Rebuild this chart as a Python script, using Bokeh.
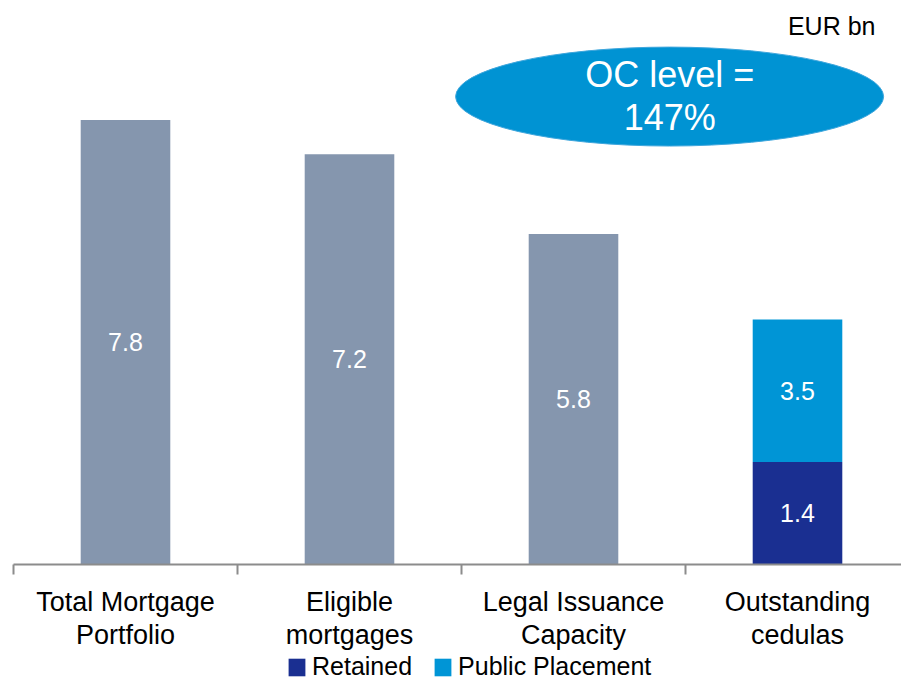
import numpy as np
from bokeh.plotting import figure
from bokeh.layouts import column
from bokeh.models import (Range1d, LinearAxis, FixedTicker, Legend, LegendItem, ColumnDataSource)
from bokeh.core.properties import value
from bokeh.embed import file_html
from bokeh.resources import INLINE

# ---- data ----
categories = ["Total Mortgage Portfolio", "Eligible mortgages", "Legal Issuance Capacity", "Outstanding cedulas"]
tick_labels = ["Total Mortgage\nPortfolio", "Eligible\nmortgages", "Legal Issuance\nCapacity", "Outstanding\ncedulas"]
portfolio_values = [7.8, 7.2, 5.8]          # grey bars (first three categories)
portfolio_labels = ["7.8", "7.2", "5.8"]
retained_value = [1.8]                       # bar height as drawn
public_value = [2.5]                         # bar height as drawn
retained_label = ["1.4"]
public_label = ["3.5"]
series_names = ["Retained", "Public Placement"]
oc_text = ["OC level =", "147%"]
unit_text = "EUR bn"

FONT = "Liberation Sans"
GREY = "#8596AE"
DARK = "#1A2F91"
LIGHT = "#0095D6"
AXIS = "#8C8C8C"

n = len(categories)
centers = list(np.arange(n) + 0.5)

W = 901
H_MAIN, H_LEG = 652, 27
left, top = 13, 8
frame_w = W - left
x_end = frame_w / 224.0

p = figure(width=W, height=H_MAIN, x_range=Range1d(0, x_end), y_range=Range1d(0, 9.755),
           output_backend="svg", toolbar_location=None,
           x_axis_location=None, y_axis_location=None,
           min_border_left=left, min_border_right=0, min_border_top=top,
           min_border_bottom=H_MAIN - 565)
p.outline_line_color = None
p.xgrid.visible = False
p.ygrid.visible = False
p.background_fill_color = "white"
p.border_fill_color = "white"

# tick axis (boundary ticks)
tick_axis = LinearAxis(ticker=FixedTicker(ticks=list(range(n + 1))),
                       major_label_overrides={i: "" for i in range(n + 1)},
                       major_label_text_font_size="0px", major_label_standoff=0,
                       major_tick_out=10, major_tick_in=0,
                       major_tick_line_color=AXIS, major_tick_line_width=2,
                       minor_tick_line_color=None,
                       axis_line_color=AXIS, axis_line_width=2)
p.add_layout(tick_axis, "below")

# label axis
label_axis = LinearAxis(ticker=FixedTicker(ticks=centers),
                        major_label_overrides={c: t for c, t in zip(centers, tick_labels)},
                        major_label_text_font=FONT, major_label_text_font_size="27px",
                        major_label_text_line_height=1.1,
                        major_label_text_color="black", major_label_standoff=6,
                        major_tick_line_color=None, minor_tick_line_color=None,
                        axis_line_color=None)
p.add_layout(label_axis, "below")

# grey bars
src = ColumnDataSource(dict(x=centers[:3], top=portfolio_values, label=portfolio_labels,
                            mid=[v / 2 for v in portfolio_values]))
p.vbar(x="x", top="top", width=0.4, source=src, fill_color=GREY, line_color=None)
p.text(x="x", y="mid", text="label", source=src, text_align="center", text_baseline="middle",
       text_color="white", text_font=value(FONT), text_font_size="25px")

# stacked bar
sx = [centers[3]]
stack_src = ColumnDataSource(dict(x=sx, r0=[0], r1=retained_value,
                                  p1=[a + b for a, b in zip(retained_value, public_value)]))
p.vbar(x="x", bottom="r0", top="r1", width=0.4, source=stack_src, fill_color=DARK, line_color=None)
p.vbar(x="x", bottom="r1", top="p1", width=0.4, source=stack_src, fill_color=LIGHT, line_color=None)
p.text(x=sx, y=[v / 2 for v in retained_value], text=retained_label, text_align="center",
       text_baseline="middle", text_color="white", text_font=value(FONT), text_font_size="25px")
p.text(x=sx, y=[a + b / 2 for a, b in zip(retained_value, public_value)], text=public_label,
       text_align="center", text_baseline="middle", text_color="white",
       text_font=value(FONT), text_font_size="25px")

# OC ellipse
p.ellipse(x=[2.929], y=[8.21], width=428, height=99, width_units="screen", height_units="screen",
          fill_color="#0093D3", line_color="#3FA6DC", line_width=1)
p.text(x=[2.93, 2.93], y=[8.59, 7.85], text=oc_text, text_align="center",
       text_baseline="middle", text_color="white", text_font=value(FONT), text_font_size="36px")

# unit text
p.text(x=[3.848], y=[9.44], text=[unit_text], text_align="right", text_baseline="middle",
       text_color="black", text_font=value(FONT), text_font_size="25px")

# ---- legend strip (proxy renderers hidden, legend only) ----
q = figure(width=W, height=H_LEG, x_range=Range1d(0, 1), y_range=Range1d(0, 1),
           output_backend="svg", toolbar_location=None,
           x_axis_location=None, y_axis_location=None,
           min_border_left=0, min_border_right=0, min_border_top=0, min_border_bottom=0)
q.outline_line_color = None
q.xgrid.visible = False
q.ygrid.visible = False
q.border_fill_color = "white"
l_ret = q.vbar(x="x", bottom="r0", top="r1", width=0.4, source=stack_src,
               fill_color=DARK, line_color=None, visible=False)
l_pub = q.vbar(x="x", bottom="r1", top="p1", width=0.4, source=stack_src,
               fill_color=LIGHT, line_color=None, visible=False)
legend = Legend(items=[LegendItem(label=series_names[0], renderers=[l_ret]),
                       LegendItem(label=series_names[1], renderers=[l_pub])],
                location=(273, -2), orientation="horizontal",
                label_text_font=FONT, label_text_font_size="25px", label_text_color="black",
                label_text_line_height=1.0,
                glyph_width=21, glyph_height=22, label_standoff=5, spacing=20,
                inactive_fill_alpha=0.0,
                padding=0, margin=0, border_line_color=None, background_fill_alpha=0)
q.add_layout(legend)

open("out.html", "w").write(file_html(column(p, q, spacing=0), INLINE))
